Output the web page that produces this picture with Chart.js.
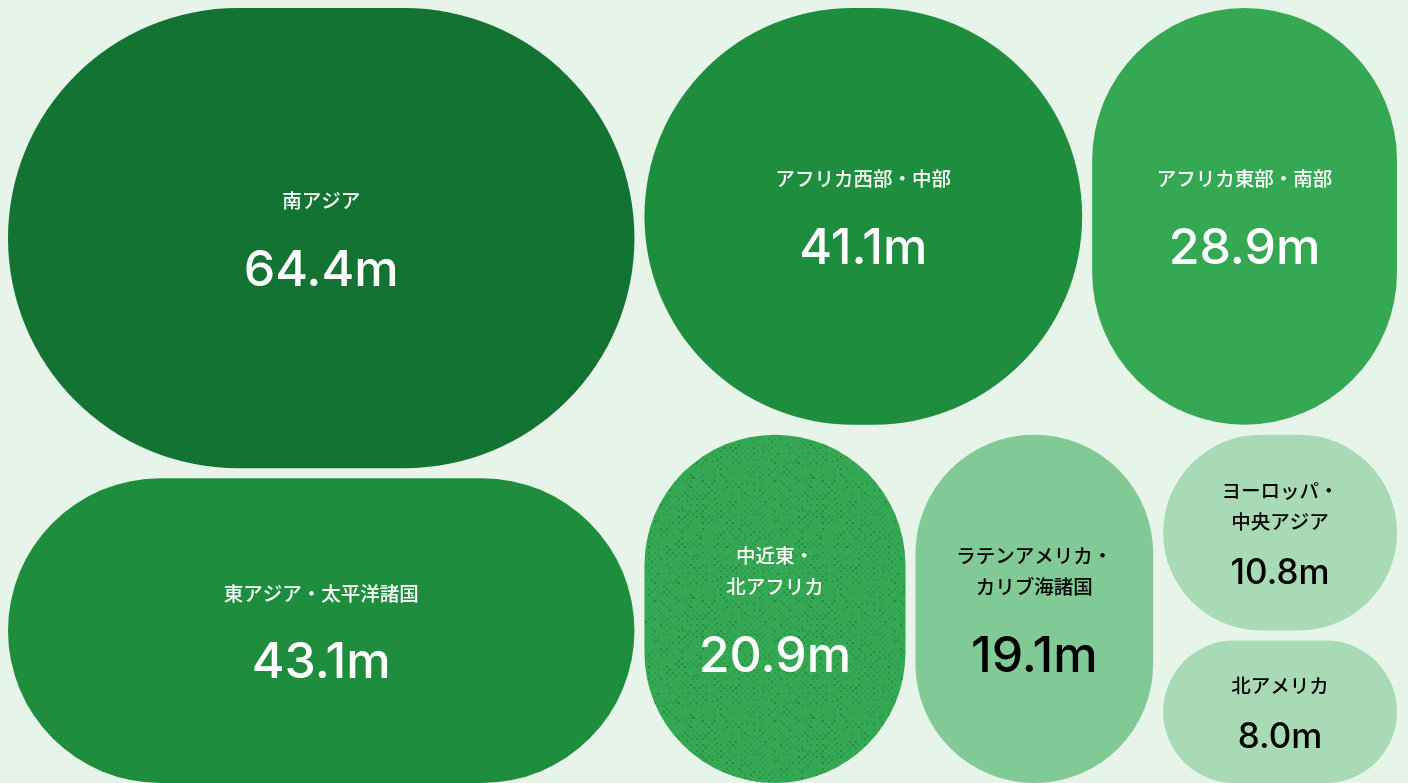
<!DOCTYPE html>
<html lang="ja">
<head>
<meta charset="utf-8">
<script src="https://cdn.jsdelivr.net/npm/chart.js@4/dist/chart.umd.min.js"></script>
<style>
  html, body { margin: 0; padding: 0; background: #e6f4ea; overflow: hidden; }
  #wrap { position: relative; width: 1408px; height: 790px; }
</style>
</head>
<body>
<div id="wrap"><canvas id="c"></canvas></div>
<script>
// ---- data ----
const REGIONS = [
  '南アジア',
  '東アジア・太平洋諸国',
  'アフリカ西部・中部',
  'アフリカ東部・南部',
  '中近東・\n北アフリカ',
  'ラテンアメリカ・\nカリブ海諸国',
  'ヨーロッパ・\n中央アジア',
  '北アメリカ'
];
const VALUES = [64.4, 43.1, 41.1, 28.9, 20.9, 19.1, 10.8, 8.0];
const UNIT = 'm';

// ---- styles ----
const FILLS = ['#137333', '#1e8e3e', '#1e8e3e', '#34a853', '#34a853', '#81c995', '#a8dab5', '#a8dab5'];
const TEXTURED = [false, false, false, false, true, false, false, false];
const GAP = 5; // half gap in px around each tile

function worst(row, s) {
  let sum = 0, mx = -Infinity, mn = Infinity;
  row.forEach(a => { sum += a; mx = Math.max(mx, a); mn = Math.min(mn, a); });
  return Math.max((s * s * mx) / (sum * sum), (sum * sum) / (s * s * mn));
}
function squarify(values, x, y, w, h) {
  const total = values.reduce((a, b) => a + b, 0);
  const k = (w * h) / total;
  const areas = values.map(v => v * k);
  const out = [];
  let i = 0;
  while (i < areas.length) {
    const s = Math.min(w, h);
    let row = [areas[i]];
    let best = worst(row, s);
    let j = i + 1;
    while (j < areas.length) {
      const cand = row.concat(areas[j]);
      const wc = worst(cand, s);
      if (wc <= best) { row = cand; best = wc; j++; } else break;
    }
    const rs = row.reduce((a, b) => a + b, 0);
    if (w >= h) {
      const sw = rs / h; let yy = y;
      row.forEach(a => { const hh = a / sw; out.push({ x0: x, y0: yy, x1: x + sw, y1: yy + hh }); yy += hh; });
      x += sw; w -= sw;
    } else {
      const sh = rs / w; let xx = x;
      row.forEach(a => { const ww = a / sh; out.push({ x0: xx, y0: y, x1: xx + ww, y1: y + sh }); xx += ww; });
      y += sh; h -= sh;
    }
    i = j;
  }
  return out;
}

function hash(a, b) {
  return Math.abs(Math.sin(a * 12.9898 + b * 78.233) * 43758.5453) % 1;
}
function makeTexture(base) {
  const S = 120;
  const c = document.createElement('canvas');
  c.width = S; c.height = S;
  const g = c.getContext('2d');
  g.fillStyle = base; g.fillRect(0, 0, S, S);
  // halftone lattice at 45 degrees
  for (let j = 0; j * 3 < S; j++) {
    const yy = j * 3 + 1;
    for (let xx = (j % 2) * 3 + 1; xx < S; xx += 6) {
      const h = hash(xx, yy);
      if (h < 0.35) continue;
      g.fillStyle = 'rgba(22,100,45,' + (0.2 + 0.45 * h).toFixed(2) + ')';
      g.beginPath(); g.arc(xx, yy, 0.5 + 0.45 * h, 0, Math.PI * 2); g.fill();
    }
  }
  // sparse darker speckles
  for (let n = 0; n < 40; n++) {
    const px = hash(n, 3.1) * S, py = hash(7.7, n) * S;
    g.fillStyle = 'rgba(18,85,38,0.6)';
    g.fillRect(px, py, 1.2, 1.2);
  }
  return c;
}

function isLight(hex) {
  const n = parseInt(hex.slice(1), 16);
  const r = n >> 16, g = (n >> 8) & 255, b = n & 255;
  return (0.299 * r + 0.587 * g + 0.114 * b) > 150;
}

const tilePlugin = {
  id: 'tiles',
  afterDatasetsDraw(chart) {
    const { ctx, chartArea } = chart;
    const xs = chart.scales.x, ys = chart.scales.y;
    const W = chartArea.width, H = chartArea.height;
    const rects = squarify(VALUES, 0, 0, W, H).map(r => ({
      x0: r.x0 / W * 100, x1: r.x1 / W * 100, y0: r.y0 / H * 100, y1: r.y1 / H * 100
    }));
    ctx.save();
    rects.forEach((r, i) => {
      const left = xs.getPixelForValue(r.x0) + GAP;
      const right = xs.getPixelForValue(r.x1) - GAP;
      const top = ys.getPixelForValue(r.y0) + GAP;
      const bottom = ys.getPixelForValue(r.y1) - GAP;
      const w = right - left, h = bottom - top;
      const rad = Math.min(w, h) / 2;
      ctx.beginPath();
      ctx.roundRect(left, top, w, h, rad);
      if (TEXTURED[i]) {
        ctx.fillStyle = ctx.createPattern(makeTexture(FILLS[i]), 'repeat');
      } else {
        ctx.fillStyle = FILLS[i];
      }
      ctx.fill();

      // text
      const cx = (left + right) / 2, cy = (top + bottom) / 2;
      const lines = REGIONS[i].split('\n');
      const LH = 31;
      const numFont = Math.min(w, h) >= 220 ? 50 : 35;
      const capH = 0.72 * numFont;
      const g = 0.78 * numFont;
      const blockH = (lines.length - 1) * LH + 20 + g + capH;
      const blockTop = cy - blockH / 2;
      const color = isLight(FILLS[i]) ? '#000000' : '#ffffff';
      ctx.fillStyle = color;
      ctx.textAlign = 'center';
      ctx.textBaseline = 'middle';
      ctx.font = '500 19.5px "Noto Sans CJK JP", sans-serif';
      lines.forEach((ln, k) => ctx.fillText(ln, cx, blockTop + 10 + k * LH));
      ctx.textBaseline = 'alphabetic';
      ctx.font = '500 ' + numFont + 'px Inter, Roboto, sans-serif';
      ctx.fillText(VALUES[i].toFixed(1) + UNIT, cx, blockTop + blockH);
    });
    ctx.restore();
  }
};

new Chart(document.getElementById('c'), {
  type: 'scatter',
  data: { labels: REGIONS, datasets: [] },
  options: {
    responsive: true,
    maintainAspectRatio: false,
    animation: false,
    events: [],
    layout: { padding: { left: 3, right: 6, top: 3, bottom: 2 } },
    plugins: { legend: { display: false }, tooltip: { enabled: false } },
    scales: {
      x: { type: 'linear', min: 0, max: 100, display: false },
      y: { type: 'linear', min: 0, max: 100, reverse: true, display: false }
    }
  },
  plugins: [tilePlugin]
});
</script>
</body>
</html>
